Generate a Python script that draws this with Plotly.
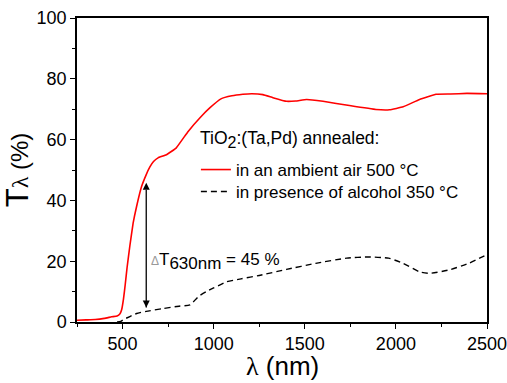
import plotly.graph_objects as go

# ---- data ----
red_nm = [250, 300, 350, 400, 440, 470, 485, 495, 505, 515, 525, 540, 558, 577, 604, 630, 650,
          670, 695, 740, 795, 860, 925, 980, 1040, 1100, 1160, 1210, 1270, 1325, 1400, 1450,
          1510, 1600, 1745, 1890, 1965, 2040, 2130, 2220, 2300, 2390, 2500]
red_T = [0.6, 0.7, 0.8, 1.2, 1.7, 2.0, 2.6, 4.0, 7.5, 12.5, 18, 25, 32.5, 38, 44.5, 48.5, 51.0,
         52.8, 54.0, 55.0, 57.3, 62.7, 67.2, 70.5, 73.4, 74.4, 74.9, 75.1, 74.8, 73.8, 72.6, 72.7,
         73.2, 72.6, 71.2, 69.9, 69.8, 70.8, 73.2, 74.9, 75.0, 75.2, 75.1]

black_nm = [470, 490, 505, 540, 577, 630, 720, 810, 870, 915, 960, 1000, 1070, 1150,
            1250, 1400, 1560, 1730, 1850, 1960, 2040, 2130, 2185, 2290, 2400, 2500]
black_T = [0.0, 0.2, 0.8, 1.8, 2.8, 3.5, 4.4, 5.2, 5.6, 8.3, 10, 11.2, 13.2, 14.2,
           15.3, 17.3, 19.3, 21.0, 21.4, 21.0, 19.3, 16.5, 16.0, 17.1, 19.3, 22.2]

red_name = "in an ambient air 500 °C"
black_name = "in presence of alcohol 350 °C"
legend_title = 'TiO<sub><span style="font-size:16px">2</span></sub>:(Ta,Pd) annealed:'

delta_nm = [630, 630]
delta_T = [4.8, 45.8]
delta_symbols = ["arrow-down", "arrow-up"]
delta_label = ('<span style="color:#999999;font-size:12px">Δ</span>T'
               '<sub><span style="font-size:17px">630nm</span></sub> = 45 %')
label_T = 20

x_ticks = [500, 1000, 1500, 2000, 2500]
y_ticks = [0, 20, 40, 60, 80, 100]

x_title = '<span style="font-family:Liberation Serif">λ</span> (nm)'
y_title = '<span style="font-size:31px">T</span><span style="font-family:Liberation Serif">λ</span> (%)'

FONT = "Arial, Liberation Sans, sans-serif"

fig = go.Figure()
fig.add_trace(go.Scatter(x=red_nm, y=red_T, mode="lines", name=red_name, legend="legend",
                         line=dict(color="#ff0000", width=1.6, shape="spline", smoothing=0.3)))
fig.add_trace(go.Scatter(x=black_nm, y=black_T, mode="lines", name=black_name, legend="legend2",
                         line=dict(color="#000000", width=1.4, dash="6px,4px",
                                   shape="spline", smoothing=0.5)))
fig.add_trace(go.Scatter(x=delta_nm, y=delta_T, mode="lines+markers", showlegend=False,
                         hoverinfo="skip",
                         line=dict(color="black", width=1.3),
                         marker=dict(symbol=delta_symbols, size=7, color="black",
                                     line=dict(width=0))))

fig.add_annotation(x=delta_nm[0], y=label_T, xref="x", yref="y",
                   text=delta_label, showarrow=False, xanchor="left", xshift=3,
                   font=dict(family=FONT, size=17, color="black"))
fig.add_annotation(x=0.295, y=0.599, xref="paper", yref="paper",
                   text=legend_title, showarrow=False, xanchor="left", yanchor="middle",
                   font=dict(family=FONT, size=17.5, color="black"))
fig.add_annotation(x=0.5, y=-0.1447, xref="paper", yref="paper",
                   text=x_title, showarrow=False, xanchor="center", yanchor="middle",
                   borderpad=0,
                   font=dict(family=FONT, size=26, color="black"))

axis_common = dict(showline=True, linecolor="black", linewidth=1.5, mirror=True,
                   ticks="outside", ticklen=5, tickwidth=1.2, tickcolor="black",
                   showgrid=False, zeroline=False, automargin=False,
                   ticklabeloverflow="allow",
                   tickfont=dict(family=FONT, size=18, color="black"))

fig.update_xaxes(range=[250, 2500], tickvals=x_ticks,
                 minor=dict(dtick=250, tick0=250, ticks="outside", ticklen=3, tickcolor="black", tickwidth=1),
                 **axis_common)
fig.update_yaxes(range=[0, 100], tickvals=y_ticks,
                 minor=dict(dtick=10, tick0=0, ticks="outside", ticklen=3, tickcolor="black", tickwidth=1),
                 title=dict(text=y_title, font=dict(family=FONT, size=24, color="black"), standoff=7),
                 **axis_common)

leg_common = dict(xanchor="left", yanchor="middle", bgcolor="rgba(0,0,0,0)", borderwidth=0,
                  font=dict(family=FONT, size=17, color="black"), itemwidth=30)
fig.update_layout(
    width=507, height=383,
    margin=dict(l=77, r=20, t=18, b=61),
    paper_bgcolor="white", plot_bgcolor="white",
    showlegend=True,
    legend=dict(x=0.29, y=0.5, **leg_common),
    legend2=dict(x=0.29, y=0.428, **leg_common),
)

fig.write_html("out.html", config={"displayModeBar": False},
               post_script="document.body.style.margin='0';")
